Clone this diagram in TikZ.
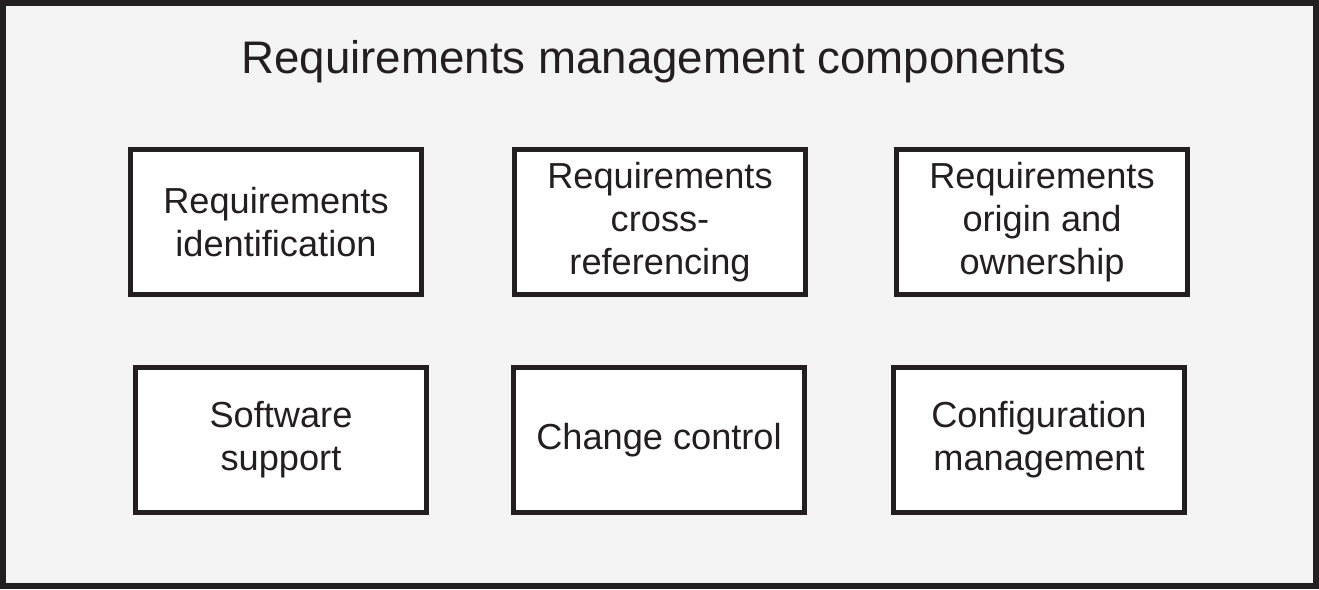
\documentclass[tikz,border=0pt]{standalone}
\usepackage{fontspec}
\setmainfont{Liberation Sans}
\usepackage{tikz}
\definecolor{inkblack}{HTML}{231F20}
\definecolor{panelgrey}{HTML}{F4F4F4}

\begin{document}
\begin{tikzpicture}[x=0.02cm,y=-0.02cm,
  comp/.style={draw=inkblack,line width=2.85pt,fill=white,minimum width=5.84cm,
    minimum height=2.92cm,align=center,text=inkblack,inner sep=0pt,
    font=\fontsize{20.6}{24.5}\selectfont}]
\useasboundingbox (0,0) rectangle (1319,589);
\draw[draw=inkblack,fill=panelgrey,line width=3.4pt] (3,3) rectangle (1316,586);
\node[text=inkblack,anchor=base,font=\fontsize{26}{30}\selectfont] (title) at (654,73) {Requirements management components};
% top row
\foreach \name/\x/\lab in {ident/276/{Requirements\\identification},
    xref/660/{Requirements\\cross-\\referencing},
    origin/1042/{Requirements\\origin and\\ownership}}{
  \node[comp] (\name) at (\x,222) {\lab};}
% bottom row
\foreach \name/\x/\lab in {soft/281/{Software\\support},
    change/659/{Change control},
    config/1039/{Configuration\\management}}{
  \node[comp] (\name) at (\x,440) {\lab};}
\end{tikzpicture}
\end{document}
